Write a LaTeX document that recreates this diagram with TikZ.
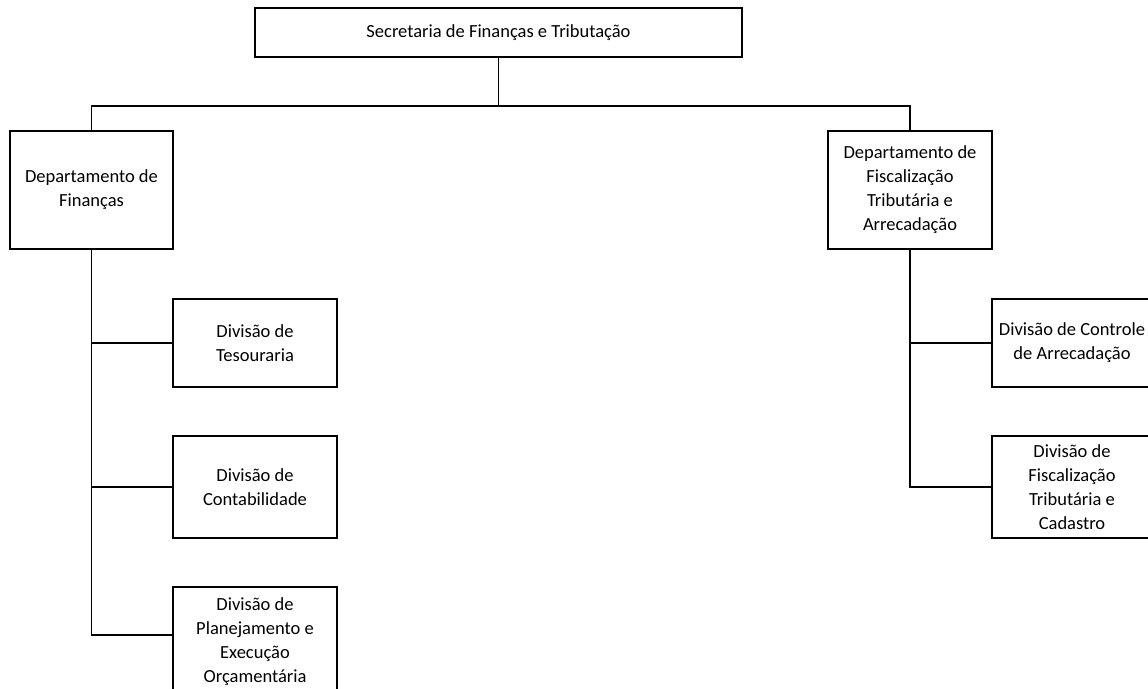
\documentclass[tikz,border=0pt]{standalone}
\usepackage{fontspec}
\setmainfont{Carlito}
\usetikzlibrary{calc}
\tikzset{
  box/.style={draw=black, line width=1.7pt, rectangle, inner sep=0pt, align=center,
    font=\fontsize{18.5}{24}\selectfont},
  link/.style={draw=black, line width=1.7pt}
}
\begin{document}
\begin{tikzpicture}[x=1pt,y=-1pt]
\useasboundingbox (0,0) rectangle (1148,688);
\clip (0,0) rectangle (1148,688);
\fill[white] (0,0) rectangle (1148,688);
% top
\node[box, minimum width=487pt, minimum height=49pt] (top) at (498.5,32.5) {Secretaria de Finanças e Tributação};
% departments
\node[box, minimum width=163pt, minimum height=118pt] (dL) at (91.5,190) {Departamento de\\Finanças};
\node[box, minimum width=164pt, minimum height=118pt] (dR) at (910,190) {Departamento de\\Fiscalização\\Tributária e\\Arrecadação};
% left divisions
\node[box, minimum width=164pt, minimum height=88pt] (t1) at (255,343) {Divisão de\\Tesouraria};
\node[box, minimum width=164pt, minimum height=102pt] (t2) at (255,487) {Divisão de\\Contabilidade};
\node[box, minimum width=164pt, minimum height=110pt] (t3) at (255,642) {Divisão de\\Planejamento e\\Execução\\Orçamentária};
% right divisions
\node[box, minimum width=160pt, minimum height=88pt] (r1) at (1072,343) {Divisão de Controle\\de Arrecadação};
\node[box, minimum width=160pt, minimum height=102pt] (r2) at (1072,487) {Divisão de\\Fiscalização\\Tributária e\\Cadastro};
% connectors
\coordinate (bus) at ($(top.south)+(0,48)$);
\coordinate (j3) at ($(t3.north west)+(0,49)$);
\draw[link] (top.south) -- (bus);
\draw[link] (dL.north) |- (bus) -| (dR.north);
\draw[link] (dL.south) |- (t1.west);
\draw[link] (dL.south) |- (t2.west);
\draw[link] (dL.south) |- (j3);
\draw[link] (dR.south) |- (r1.west);
\draw[link] (dR.south) |- (r2.west);
\end{tikzpicture}
\end{document}
